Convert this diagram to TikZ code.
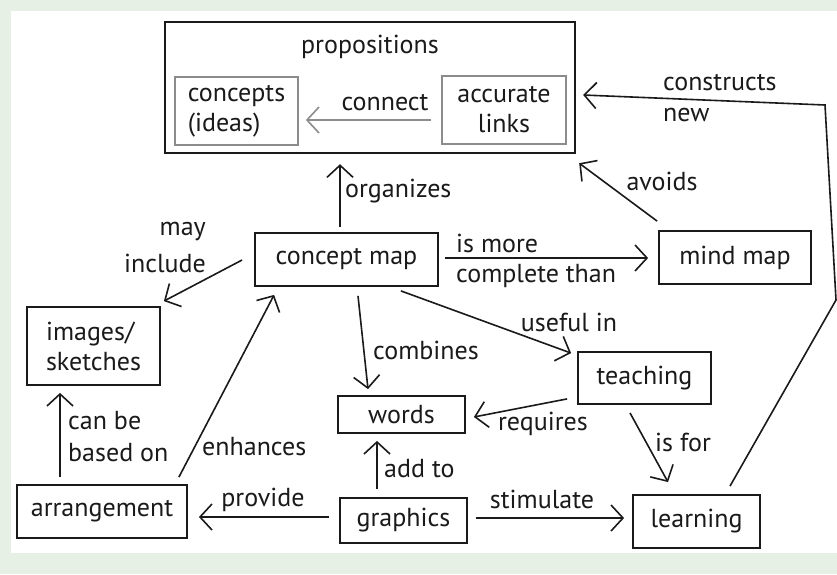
\documentclass[tikz,border=0pt]{standalone}
\usepackage{fontspec}
\setmainfont{PT Sans}
\usetikzlibrary{arrows.meta,calc}
\definecolor{bggreen}{HTML}{E6F0E4}
\definecolor{boxgray}{HTML}{8C8C8C}
\definecolor{ink}{HTML}{1A1A1A}
\begin{document}
\begin{tikzpicture}[x=1pt,y=-1pt,
  every node/.style={font=\fontsize{26}{30}\selectfont, inner sep=0pt, text=ink},
  box/.style={draw=ink, line width=1.8pt},
  gbox/.style={draw=boxgray, line width=1.8pt},
  arr/.style={draw=ink, line width=1.6pt, -{Straight Barb[length=12pt,width=26pt]}},
  garr/.style={arr, draw=boxgray},
  lbl/.style={align=left}
]
% background
\fill[bggreen] (0,0) rectangle (837,574);
\fill[white] (11,11) rectangle (837,553);
\useasboundingbox (0,0) rectangle (837,574);

% nodes
\node[box, line width=2.4pt, minimum width=410, minimum height=131] (prop) at (370,87.5) {};
\node (proptxt) at (370,47) {propositions};
\node[gbox, minimum width=123, minimum height=68, align=left] (conc) at (236.5,111) {concepts\\(ideas)};
\node[gbox, minimum width=124, minimum height=68, align=center] (acc) at (504,110) {accurate\\links};
\node[box, minimum width=183, minimum height=53] (cmap) at (346.5,259.5) {concept map};
\node[box, minimum width=152, minimum height=53] (mind) at (735,257.5) {mind map};
\node[box, minimum width=133, minimum height=78, align=left] (img) at (93.5,346) {images/\\sketches};
\node[box, minimum width=133, minimum height=52] (teach) at (644.5,378) {teaching};
\node[box, minimum width=127, minimum height=37] (words) at (401.5,414.5) {words};
\node[box, minimum width=170, minimum height=53] (arrg) at (102,511.5) {arrangement};
\node[box, minimum width=127, minimum height=45] (graph) at (403.5,520.5) {graphics};
\node[box, minimum width=127, minimum height=53] (learn) at (696.5,521.5) {learning};

% connectors
\draw[garr] ($(acc.west)+(-10,10)$) -- ($(conc.east)+(7,9)$);
\node (l-connect) at (385,103) {connect};

\draw[arr] ($(cmap.north)+(-6.5,-5)$) -- ($(prop.south)+(-30,10)$);
\node[anchor=west] (l-org) at (345,191) {organizes};

\draw[arr] ($(mind.north west)+(-1,-9)$) -- ($(prop.south east)+(3,9)$);
\node (l-avoids) at (662,181) {avoids};

\draw[arr] ($(cmap.east)+(6,-1.5)$) -- ($(mind.west)+(-10,0.5)$);
\node[anchor=west] (l-more1) at (456,243) {is more};
\node[anchor=west] (l-more2) at (456,276) {complete than};

\draw[arr] ($(cmap.west)+(-12,0.5)$) -- ($(img.north east)+(3,-5)$);
\node[anchor=east] (l-may) at (206,232) {may};
\node[anchor=east] (l-incl) at (206,263) {include};

\draw[arr] ($(arrg.north)+(-42,-7)$) -- ($(img.south)+(-33.5,7)$);
\node[anchor=west] (l-can) at (68,421) {can be};
\node[anchor=west] (l-based) at (68,453) {based on};

\draw[arr] ($(arrg.north east)+(-9,-7)$) -- ($(cmap.south west)+(20,8)$);
\node[anchor=west] (l-enh) at (202,447) {enhances};

\draw[arr] ($(graph.west)+(-10,-3.5)$) -- ($(arrg.east)+(11,5.5)$);
\node (l-prov) at (263,500) {provide};

\draw[arr] ($(graph.north)+(-26.5,-8)$) -- ($(words.south)+(-24.5,7)$);
\node[anchor=west] (l-add) at (384,469) {add to};

\draw[arr] ($(cmap.south)+(11.5,9)$) -- ($(words.north)+(-33.5,-6)$);
\node[anchor=west] (l-comb) at (373,350) {combines};

\draw[arr] ($(cmap.south east)+(-38,4)$) -- ($(teach.north west)+(-6,2)$);
\node (l-useful) at (569,322) {useful in};

\draw[arr] ($(teach.south west)+(-10,-6)$) -- ($(words.east)+(8,2.5)$);
\node (l-req) at (543,424) {requires};

\draw[arr] ($(teach.south)+(-14.5,8)$) -- ($(learn.north)+(-28.5,-12)$);
\node (l-isfor) at (683,442) {is for};

\draw[arr] ($(graph.east)+(8,-2.5)$) -- ($(learn.west)+(-8,-3.5)$);
\node (l-stim) at (542,499) {stimulate};

\coordinate (bend1) at (836,300);
\coordinate (bend2) at (825,105);
\draw[arr] ($(learn.north)+(33.5,-8)$) -- (bend1) -- (bend2) -- ($(prop.east)+(7,7.5)$);
\node[anchor=west] (l-cons) at (663,83) {constructs};
\node[anchor=west] (l-new) at (663,115) {new};
\end{tikzpicture}
\end{document}
